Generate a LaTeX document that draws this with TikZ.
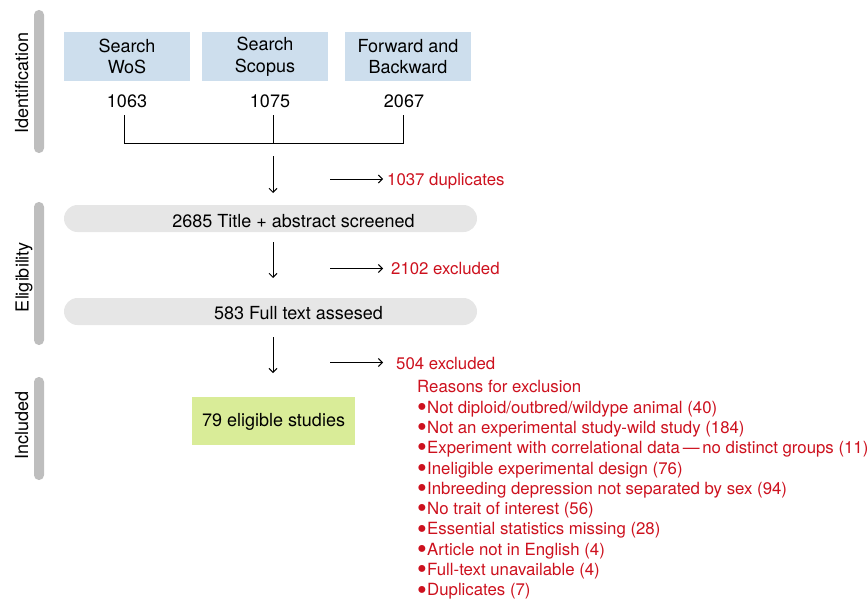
\documentclass[tikz,border=0pt]{standalone}
\usepackage{fontspec}
\usepackage{graphicx}
\setmainfont{TeX Gyre Heros}
\usetikzlibrary{arrows.meta}
\definecolor{boxblue}{RGB}{205,222,237}
\definecolor{boxgrey}{RGB}{230,230,230}
\definecolor{bargrey}{RGB}{190,190,190}
\definecolor{boxgreen}{RGB}{217,236,152}
\definecolor{exred}{RGB}{205,17,30}
\newcommand\rbul{\makebox[10pt][l]{\smash{\raisebox{-3.2pt}{\scalebox{1.65}{\textbullet}}}}}
\begin{document}
\begin{tikzpicture}[x=1pt,y=-1pt,
  blk/.style={font=\fontsize{18}{21.5}\selectfont, inner sep=0pt},
  redtxt/.style={font=\fontsize{16.8}{20}\selectfont, text=exred, inner sep=0pt, anchor=base west},
  phase/.style={font=\fontsize{18}{21.5}\selectfont, inner sep=0pt, anchor=base, rotate=90},
  sidebar/.style={fill=bargrey, rounded corners=4.8pt},
  srcbox/.style={fill=boxblue, minimum width=126pt, minimum height=49pt, align=center, blk},
  screenbox/.style={fill=boxgrey, minimum width=413pt, minimum height=27pt, rounded corners=13.5pt, inner sep=0pt},
  finalbox/.style={fill=boxgreen, minimum width=163pt, minimum height=48pt, blk},
  conn/.style={line width=1pt},
  arr/.style={line width=1pt, -{Straight Barb[length=4pt,width=8pt]}}
]
\useasboundingbox (0,0) rectangle (867,602);

% phase bars
\fill[sidebar] (34,10) rectangle (44,153);
\fill[sidebar] (34,202) rectangle (44,345);
\fill[sidebar] (34,377) rectangle (44,480);
\node[phase] (pid) at (28,83) {Identification};
\node[phase] (pel) at (28.5,277) {Eligibility};
\node[phase] (pin) at (28,425.5) {Included};

% sources
\node[srcbox] (wos) at (127,56.5) {Search\\WoS};
\node[srcbox] (scopus) at (265,56.5) {Search\\Scopus};
\node[srcbox] (fwd) at (408,56.5) {Forward and\\Backward};
\node[blk, anchor=base] (n1) at (127,107) {1063};
\node[blk, anchor=base] (n2) at (270,107) {1075};
\node[blk, anchor=base] (n3) at (404,107) {2067};

% bracket
\coordinate (b1) at (124,115);
\coordinate (b2) at (273,115);
\coordinate (b3) at (403,115);
\coordinate (c1) at (124,143);
\coordinate (c2) at (273,143);
\coordinate (c3) at (403,143);
\draw[conn] (b1) -- (c1) -- (c3) -- (b3);
\draw[conn] (b2) -- (c2);

% step 1
\coordinate (d1s) at (273,156);
\coordinate (d1e) at (273,193);
\draw[arr] (d1s) -- (d1e);
\coordinate (r1s) at (330,179);
\coordinate (r1e) at (383,179);
\draw[arr] (r1s) -- (r1e);
\node[redtxt] (dup) at (387,185.5) {1037 duplicates};

\node[screenbox] (scr) at (270.5,218.5) {};
\node[blk, anchor=base] (scrt) at (293.5,227.7) {2685 Title + abstract screened};

% step 2
\coordinate (d2s) at (273,242);
\coordinate (d2e) at (273,278);
\draw[arr] (d2s) -- (d2e);
\coordinate (r2s) at (330,268.5);
\coordinate (r2e) at (383,268.5);
\draw[arr] (r2s) -- (r2e);
\node[redtxt] (ex1) at (391,274.3) {2102 excluded};

\node[screenbox] (full) at (270.5,311.5) {};
\node[blk, anchor=base] (fullt) at (298.5,319.3) {583 Full text assesed};

% step 3
\coordinate (d3s) at (273,337);
\coordinate (d3e) at (273,373);
\draw[arr] (d3s) -- (d3e);
\coordinate (r3s) at (330,362.5);
\coordinate (r3e) at (383,362.5);
\draw[arr] (r3s) -- (r3e);
\node[redtxt] (ex2) at (396,369) {504 excluded};

\node[finalbox] (elig) at (273.5,421) {};
\node[blk, anchor=base] (eligt) at (273.5,426) {79 eligible studies};

% reasons
\node[redtxt] (rs0) at (417,392.8) {Reasons for exclusion};
\node[redtxt] (rs1) at (417,413.1) {\rbul Not diploid/outbred/wildype animal (40)};
\node[redtxt] (rs2) at (417,433.4) {\rbul Not an experimental study-wild study (184)};
\node[redtxt] (rs3) at (417,453.7) {\rbul Experiment with correlational data\,—\,no distinct groups (11)};
\node[redtxt] (rs4) at (417,474.0) {\rbul Ineligible experimental design (76)};
\node[redtxt] (rs5) at (417,494.3) {\rbul Inbreeding depression not separated by sex (94)};
\node[redtxt] (rs6) at (417,514.6) {\rbul No trait of interest (56)};
\node[redtxt] (rs7) at (417,534.9) {\rbul Essential statistics missing (28)};
\node[redtxt] (rs8) at (417,555.2) {\rbul Article not in English (4)};
\node[redtxt] (rs9) at (417,575.5) {\rbul Full-text unavailable (4)};
\node[redtxt] (rs10) at (417,595.8) {\rbul Duplicates (7)};
\end{tikzpicture}
\end{document}
